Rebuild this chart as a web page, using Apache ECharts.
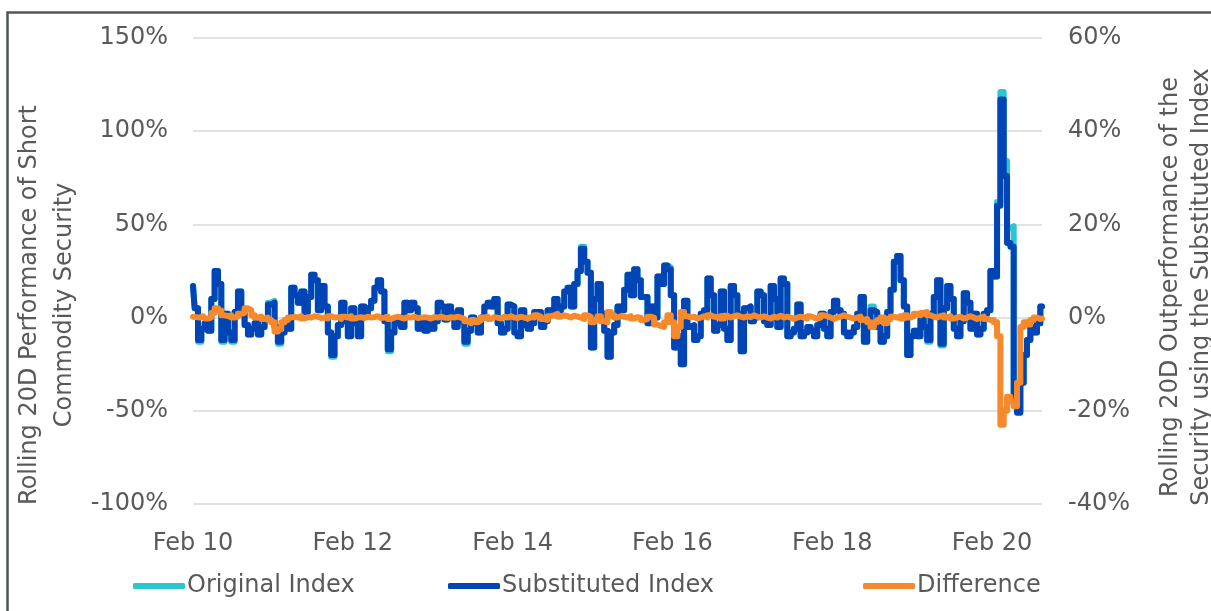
<!DOCTYPE html>
<html>
<head>
<meta charset="utf-8">
<script src="https://cdn.jsdelivr.net/npm/echarts@6/dist/echarts.min.js"></script>
<style>
html,body{margin:0;padding:0;background:#fff;}
#chart{width:1211px;height:611px;}
</style>
</head>
<body>
<div id="chart"></div>
<script>
// Half-monthly observations from Feb 2010 to Sep 2020
const seriesNames = ['Original Index', 'Substituted Index', 'Difference'];
const monthNames = ['Jan','Feb','Mar','Apr','May','Jun','Jul','Aug','Sep','Oct','Nov','Dec'];

// Substituted Index rolling 20D performance (%), left axis
const substituted = [
  17, 5, -12, -6, -3, -7, 10, 25, 18, -12,
  2, -8, -12, 3, 14, 2, -4, -9, -6, -3,
  -9, -5, -1, 7, 8, -5, -13, -8, -4, -6,
  16, 12, 8, 14, 3, 11, 23, 20, 4, 17,
  6, -8, -20, -10, -4, 8, -2, -10, 5, -3,
  -10, 6, 2, 5, 9, 16, 20, 14, -2, -17,
  -8, -3, 0, -5, 8, 4, 8, 5, -6, -2,
  -7, -3, -6, -2, 8, 6, -1, 6, 2, -5,
  4, -2, -13, -7, 0, -3, -8, 0, 6, 8,
  6, 10, -3, -8, -6, 7, 6, -8, -10, 4,
  -4, -6, -3, 3, 3, -5, -2, 4, 2, 10,
  4, 6, 14, 16, 6, 18, 25, 37, 30, 24,
  -16, 10, 18, 2, -7, -21, -8, -4, 6, 4,
  15, 23, 12, 26, 20, 11, 11, -3, 6, 0,
  22, 18, 28, 26, 12, -16, -10, -25, 9, -5,
  -4, -12, -10, 2, 4, 21, 12, -7, -4, 14,
  -6, -12, 17, 12, 2, -18, 5, 6, -2, 0,
  14, 12, -2, -4, 17, 10, -5, 21, 18, -10,
  -8, -6, 7, -10, -8, -5, -7, -10, -4, 2,
  -6, -10, 3, 9, 4, 2, -8, -10, -8, -5,
  2, 11, -13, -5, 4, 3, -5, -13, -10, 3,
  15, 30, 33, 20, 6, -20, -10, -7, -10, -1,
  -5, -12, 2, 11, 20, -14, 5, 17, 10, -6,
  -10, -2, 13, 8, -6, 2, -9, -6, 2, 4,
  25, 22, 60, 117, 76, 40, 38, -45, -51, -35,
  -20, -12, -5, -8, -3, 6
];

// Original Index rolling 20D performance (%), left axis
const original = [
  17, 5, -13, -6, -3, -7, 10, 25, 18, -13,
  2, -8, -13, 3, 14, 2, -4, -9, -6, -3,
  -9, -5, -1, 8, 9, -5, -14, -8, -4, -6,
  16, 12, 8, 14, 3, 11, 23, 20, 4, 17,
  6, -8, -21, -10, -4, 8, -2, -10, 5, -3,
  -10, 6, 2, 5, 9, 16, 20, 14, -2, -18,
  -8, -3, 0, -5, 8, 4, 8, 5, -6, -2,
  -7, -3, -6, -2, 8, 6, -1, 6, 2, -5,
  4, -2, -14, -7, 0, -3, -8, 0, 6, 8,
  6, 10, -3, -8, -6, 7, 6, -8, -10, 4,
  -4, -6, -3, 3, 3, -5, -2, 4, 2, 10,
  4, 6, 14, 16, 6, 18, 25, 38, 30, 24,
  -16, 10, 18, 2, -7, -21, -8, -4, 6, 4,
  15, 23, 12, 26, 20, 11, 11, -3, 6, 0,
  22, 18, 28, 27, 12, -16, -10, -25, 9, -5,
  -4, -12, -10, 2, 4, 21, 12, -7, -4, 14,
  -6, -12, 17, 12, 2, -18, 5, 6, -2, 0,
  14, 12, -2, -4, 17, 10, -5, 21, 18, -10,
  -8, -6, 7, -10, -8, -5, -7, -10, -4, 2,
  -6, -10, 3, 9, 4, 2, -8, -10, -8, -5,
  2, 11, -13, -5, 6, 3, -5, -13, -10, 3,
  15, 30, 33, 20, 6, -20, -10, -7, -10, -1,
  -5, -13, 2, 11, 20, -15, 5, 17, 10, -6,
  -10, -2, 13, 8, -6, 2, -9, -6, 2, 4,
  25, 22, 62, 121, 84, 48, 49, -40, -50, -35,
  -20, -12, -5, -8, -3, 6
];

// Difference (outperformance, %), right axis
const difference = [
  0.2, 0.1, 0, 0.3, -0.2, 0, 1, 2, 1.5, 0.5,
  0.3, 0.5, 0, 0.2, 0.8, 1, 2, 1.6, 0.5, 0,
  0.2, -0.3, 0, -0.5, -1, -3, -2.5, -1, -0.5, 0,
  0.2, 0, 0.3, -0.2, 0.1, 0, 0.3, 0.2, -0.1, 0,
  -0.2, 0.3, 0, 0.1, -0.3, 0.2, 0, 0.3, -0.2, 0,
  0.1, -0.1, 0.2, 0, 0.1, 0.3, -0.1, 0, 0.2, -0.3,
  0, 0.2, 0, -0.2, 0.1, 0, 0.2, -0.1, 0, 0.1,
  0, -0.2, 0.1, 0, 0.2, 0, -0.1, 0.1, 0, 0.2,
  0, -0.3, -0.8, -1.2, -0.5, -1, -0.6, 0, 0.2, -0.3,
  0.1, 0, -0.2, 0.2, 0, 0.3, 0, -0.1, 0.2, 0,
  -0.2, 0.1, 0, 0.5, 0.2, -0.3, -0.5, 0.3, 0.5, 0.8,
  0.2, 0.5, 0.3, 0, 0.4, 0.2, 0, -0.3, 0.5, 0.2,
  -1, -0.5, 0.3, -0.8, -1, 1.2, 0.5, 0, 0.3, 0.2,
  0, 0.3, -0.2, 0.1, 0, -0.5, -0.3, 0.2, 0, -1.5,
  -1.8, -2, -1, 0.5, -1, -4, -2, 1.2, 0.3, 0,
  0.2, -0.2, 0, 0.3, 0, 0.5, 0.2, 0, 0.3, -0.2,
  0.4, 0, 0.3, 0.5, 0.2, 0, 0.3, 0.1, 0.5, 0.2,
  0, 0.3, 0, -0.2, 0.2, 0, 0.4, 0, 0.2, 0,
  -0.3, 0, 0.2, 0, -0.2, 0.3, 0, -0.2, 0, 0.5,
  0.3, 0, -0.3, 0, 0.2, 0.5, 0.2, 0, -0.2, 0,
  0.2, -0.5, -0.3, -1, -2, -1, -0.5, 0, -1.2, -0.3,
  0.2, 0, 0.3, -0.2, 0.5, 0, 0.3, 0.8, 0.5, 1,
  1.2, 0.5, 0.2, 0, 0.3, 0.5, 0, 0.3, -0.2, 0,
  0.2, -0.2, 0, 0.3, 0, -0.3, 0, 0.2, -0.3, -0.5,
  -0.5, -1, -4, -23, -20, -17, -18, -19, -14, -2,
  -1, -1.5, -0.5, 0, -0.3, -0.2
];

// Category labels: two observations per month starting Feb 2010
const categories = [];
for (let i = 0; i < substituted.length; i++) {
  const m = 1 + Math.floor(i / 2);
  const y = 2010 + Math.floor(m / 12);
  categories.push(monthNames[m % 12] + ' ' + String(y).slice(2));
}

const leftTitle = 'Rolling 20D Performance of Short\nCommodity Security';
const rightTitle = 'Rolling 20D Outperformance of the\nSecurity using the Substituted Index';

const FONT = 'DejaVu Sans';
const TXT = '#595959';
const colors = ['#2cc6d1', '#0044b5', '#f5892b'];

const chart = echarts.init(document.getElementById('chart'), null, {renderer: 'canvas'});
const legendBase = {
  top: 569, itemWidth: 52, itemHeight: 6, icon: 'roundRect', itemGap: 0,
  textStyle: {fontFamily: FONT, fontSize: 24, color: TXT, padding: [0, 0, 0, -3]}
};
const lineSeries = (name, data, yIdx, color, z) => ({
  name: name, type: 'line', yAxisIndex: yIdx, data: data, step: 'middle',
  showSymbol: false, symbol: 'none', z: z, color: color,
  lineStyle: {width: 6, color: color, join: 'round', cap: 'round'}
});
chart.setOption({
  animation: false,
  backgroundColor: '#ffffff',
  grid: {left: 193, right: 169, top: 38, bottom: 107, containLabel: false},
  legend: [
    Object.assign({}, legendBase, {left: 128, data: [seriesNames[0]]}),
    Object.assign({}, legendBase, {left: 443, data: [seriesNames[1]]}),
    Object.assign({}, legendBase, {left: 858, data: [seriesNames[2]]})
  ],
  xAxis: {
    type: 'category', data: categories, boundaryGap: false,
    axisLine: {show: false}, axisTick: {show: false},
    axisLabel: {interval: 47, margin: 28, fontFamily: FONT, fontSize: 24, color: TXT}
  },
  yAxis: [
    {
      type: 'value', min: -100, max: 150, interval: 50,
      axisLine: {show: false}, axisTick: {show: false},
      splitLine: {lineStyle: {color: '#d9d9d9', width: 1.5}},
      axisLabel: {formatter: '{value}%', margin: 25, fontFamily: FONT, fontSize: 24, color: TXT}
    },
    {
      type: 'value', min: -40, max: 60, interval: 20, position: 'right',
      axisLine: {show: false}, axisTick: {show: false}, splitLine: {show: false},
      axisLabel: {formatter: '{value}%', margin: 26, fontFamily: FONT, fontSize: 24, color: TXT}
    }
  ],
  series: [
    lineSeries(seriesNames[0], original, 0, colors[0], 2),
    lineSeries(seriesNames[1], substituted, 0, colors[1], 3),
    lineSeries(seriesNames[2], difference, 1, colors[2], 4)
  ],
  graphic: [
    {type: 'rect', left: 5, top: 10, shape: {x: 0, y: 0, width: 1400, height: 800},
     style: {fill: 'none', stroke: '#4f5558', lineWidth: 2.5}, silent: true},
    {type: 'text', x: 47, y: 305, rotation: Math.PI / 2,
     style: {text: leftTitle, fontFamily: FONT, fontSize: 24, fill: TXT, align: 'center', verticalAlign: 'middle', lineHeight: 35}},
    {type: 'text', x: 1186, y: 287, rotation: Math.PI / 2,
     style: {text: rightTitle, fontFamily: FONT, fontSize: 24, fill: TXT, align: 'center', verticalAlign: 'middle', lineHeight: 31}}
  ]
});
</script>
</body>
</html>
